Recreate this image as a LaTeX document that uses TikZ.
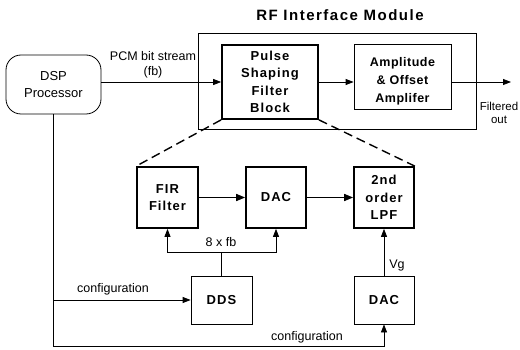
\documentclass[tikz,border=0pt]{standalone}
\usepackage{fontspec}
\setmainfont{Liberation Sans}
\newfontfamily\boxfont[LetterSpace=8]{Liberation Sans}
\newfontfamily\ampfont[LetterSpace=4]{Liberation Sans}
\newfontfamily\titlefont[LetterSpace=10]{Liberation Sans}
\usetikzlibrary{arrows.meta}

\tikzset{
  thinbox/.style={draw, line width=0.8pt, inner sep=0pt, align=center,
    font=\boxfont\bfseries\fontsize{13}{17.5}\selectfont},
  heavybox/.style={thinbox, line width=1.7pt},
  dspbox/.style={draw, line width=0.8pt, rounded corners=15pt, inner sep=0pt,
    align=center, minimum width=95pt, minimum height=59pt,
    font=\fontsize{13}{17}\selectfont},
  lbl/.style={inner sep=0pt, align=center, font=\fontsize{12.5}{15}\selectfont},
  arr/.style={-{Triangle[length=8pt,width=6pt]}, line width=0.8pt},
  harr/.style={-{Triangle[length=9pt,width=7pt]}, line width=1.6pt},
  zoomline/.style={line width=1.4pt, dash pattern=on 9pt off 5pt}
}

\begin{document}
\begin{tikzpicture}[x=1pt, y=-1pt]
\useasboundingbox (0,0) rectangle (520,350);

% RF interface module frame and its title
\node[draw, line width=0.8pt, minimum width=278pt, minimum height=96pt,
      inner sep=0pt] (rf) at (337,81) {};
\node[inner sep=0pt, font=\titlefont\bfseries\fontsize{15}{18}\selectfont]
      (title) at (340,15) {RF Interface Module};

% top row
\node[dspbox] (dsp) at (53.5,84.5) {DSP\\Processor};
\node[heavybox, minimum width=96pt, minimum height=74pt] (psf) at (270,82)
      {Pulse\\Shaping\\Filter\\Block};
\node[draw, line width=0.8pt, minimum width=97pt, minimum height=65pt,
      inner sep=0pt] (amp) at (402.5,76.5) {};
\node[inner sep=0pt, align=center,
      font=\ampfont\bfseries\fontsize{12.5}{18}\selectfont]
      (amptext) at (402.5,81) {Amplitude\\\& Offset\\Amplifer};

% pulse shaping detail
\node[heavybox, minimum width=61pt, minimum height=61pt] (fir) at (167.5,197.5) {FIR\\Filter};
\node[heavybox, minimum width=60pt, minimum height=61pt] (dac1) at (276,197.5) {DAC};
\node[heavybox, minimum width=60pt, minimum height=61pt] (lpf) at (384,197.5) {2nd\\order\\LPF};
\node[thinbox, minimum width=61pt, minimum height=48pt] (dds) at (221.5,300) {DDS};
\node[thinbox, minimum width=60pt, minimum height=48pt] (dac2) at (384,300) {DAC};

% signal path
\draw[arr] (psf.west -| dsp.east) -- (psf.west);
\node[lbl] (pcm) at (153,64.5) {PCM bit stream\\(fb)};
\draw[arr] (psf.east) -- (psf.east -| amp.west);
\coordinate (out) at (511,82);
\draw[arr] (psf.east -| amp.east) -- (out);
\node[lbl, font=\fontsize{11.5}{13}\selectfont] (filt) at (499,113) {Filtered\\out};

% zoom lines
\draw[zoomline] (psf.south west) -- (fir.north west);
\draw[zoomline] (psf.south east) -- (lpf.north east);

\draw[harr] (fir) -- (dac1);
\draw[harr] (dac1) -- (lpf);

% clock distribution from the DDS
\coordinate (split) at (221.5,252);
\draw[arr] (dds.north) -- (split) -| (fir.south);
\draw[arr] (split) -| (dac1.south);
\node[lbl] (clk) at (221,242) {8 x fb};

% configuration paths
\coordinate (corner) at (53.5,346);
\draw[arr] (dsp.south) -- (corner) -| (dac2.south);
\draw[arr] (dsp.south |- dds.west) -- (dds.west);
\node[lbl] (cfg1) at (113,289) {configuration};
\node[lbl] (cfg2) at (307,337) {configuration};

\draw[arr] (dac2.north) -- (lpf.south);
\node[lbl] (vg) at (397,265) {Vg};
\end{tikzpicture}
\end{document}
